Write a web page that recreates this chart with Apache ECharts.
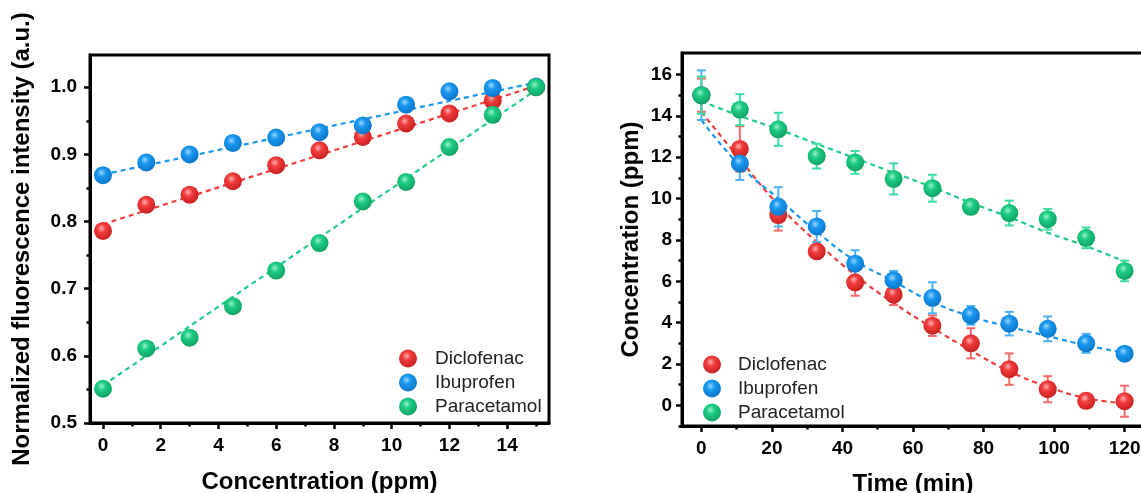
<!DOCTYPE html>
<html>
<head>
<meta charset="utf-8">
<script src="https://cdn.jsdelivr.net/npm/echarts@6/dist/echarts.min.js"></script>
<style>html,body{margin:0;padding:0;background:#fff}#c{width:1141px;height:493px}</style>
</head>
<body>
<div id="c"></div>
<script>
// ---------- data ----------
const seriesNames = ['Diclofenac', 'Ibuprofen', 'Paracetamol'];

// left panel: calibration
const leftX = [0, 1.5, 3, 4.5, 6, 7.5, 9, 10.5, 12, 13.5, 15];
const leftDiclofenac = [0.786, 0.825, 0.840, 0.860, 0.884, 0.906, 0.926, 0.946, 0.961, 0.980, 1.000];
const leftIbuprofen = [0.869, 0.888, 0.900, 0.917, 0.925, 0.933, 0.943, 0.974, 0.994, 0.999, 1.001];
const leftParacetamol = [0.551, 0.611, 0.627, 0.674, 0.727, 0.768, 0.830, 0.859, 0.911, 0.959, 1.000];
const leftFitX = [0, 15];
const leftFitDiclofenac = [0.796, 1.002];
const leftFitIbuprofen = [0.870, 1.007];
const leftFitParacetamol = [0.556, 0.996];
const leftXTicks = [0, 2, 4, 6, 8, 10, 12, 14];
const leftXMinor = [1, 3, 5, 7, 9, 11, 13, 15];
const leftYTicks = [0.5, 0.6, 0.7, 0.8, 0.9, 1.0];
const leftYMinor = [0.55, 0.65, 0.75, 0.85, 0.95];

// right panel: degradation over time
const rightX = [0, 10.9, 21.8, 32.7, 43.6, 54.5, 65.5, 76.4, 87.3, 98.2, 109.1, 120];
const rightDiclofenac = [15.0, 12.4, 9.2, 7.45, 5.95, 5.35, 3.85, 3.0, 1.75, 0.78, 0.22, 0.2];
const rightDiclofenacErr = [0.8, 1.1, 0.75, 0.3, 0.65, 0.5, 0.5, 0.73, 0.76, 0.63, 0.35, 0.75];
const rightIbuprofen = [15.0, 11.7, 9.6, 8.65, 6.85, 6.05, 5.2, 4.35, 3.95, 3.7, 3.0, 2.5];
const rightIbuprofenErr = [1.2, 0.8, 0.95, 0.75, 0.65, 0.45, 0.75, 0.45, 0.57, 0.6, 0.46, 0.25];
const rightParacetamol = [15.0, 14.3, 13.35, 12.05, 11.75, 10.95, 10.5, 9.6, 9.3, 9.0, 8.1, 6.5];
const rightParacetamolErr = [0.9, 0.75, 0.8, 0.6, 0.55, 0.75, 0.65, 0.3, 0.6, 0.5, 0.5, 0.5];
const rightFitDiclofenac = [14.2, 11.9, 9.7, 7.9, 6.3, 4.95, 3.75, 2.65, 1.65, 0.9, 0.35, 0.1];
const rightFitIbuprofen = [13.8, 11.6, 10.0, 8.4, 7.0, 6.0, 5.0, 4.3, 3.8, 3.35, 2.9, 2.55];
const rightFitParacetamol = [14.7, 14.0, 13.35, 12.65, 11.95, 11.25, 10.55, 9.8, 9.1, 8.35, 7.7, 6.95];
const rightXTicks = [0, 20, 40, 60, 80, 100, 120];
const rightXMinor = [10, 30, 50, 70, 90, 110];
const rightYTicks = [0, 2, 4, 6, 8, 10, 12, 14, 16];
const rightYMinor = [-1, 1, 3, 5, 7, 9, 11, 13, 15];

// ---------- styling ----------
const baseColors = ['#f03c3c', '#1a98f0', '#1ecc84'];
const lightColors = ['#ffb0b0', '#9ad6ff', '#9af2c8'];
const darkColors = ['#c81e1e', '#0a74c8', '#0ea062'];
const errColors = ['#f26a6a', '#4cb2f4', '#3ddca0'];
function sphere(i) {
  return {
    type: 'radial', x: 0.42, y: 0.36, r: 0.66,
    colorStops: [
      { offset: 0, color: lightColors[i] },
      { offset: 0.35, color: baseColors[i] },
      { offset: 1, color: darkColors[i] }
    ]
  };
}
const FONT = 'Arial, "Liberation Sans", sans-serif';
const tickLabel = { color: '#000', fontWeight: 'bold', fontSize: 19, fontFamily: FONT };
const nameStyle = { color: '#000', fontWeight: 'bold', fontSize: 24, fontFamily: FONT };

function mainAxis(grid, pos, min, max, ticks, fmt, name, gap, margin) {
  return {
    type: 'value', gridIndex: grid, position: pos, min: min, max: max,
    name: name, nameLocation: 'middle', nameGap: gap, nameTextStyle: nameStyle,
    axisLine: { show: true, onZero: false, lineStyle: { color: '#000', width: 3 } },
    axisTick: { show: true, inside: false, length: 6, customValues: ticks, lineStyle: { color: '#000', width: 2.5 } },
    axisLabel: Object.assign({ customValues: ticks, margin: margin, formatter: fmt }, tickLabel),
    splitLine: { show: false }
  };
}
function minorAxis(grid, pos, min, max, ticks) {
  return {
    type: 'value', gridIndex: grid, position: pos, min: min, max: max,
    axisLine: { show: false, onZero: false },
    axisTick: { show: true, inside: false, length: 3.5, customValues: ticks, lineStyle: { color: '#000', width: 2.5 } },
    axisLabel: { show: false },
    splitLine: { show: false }
  };
}

const LX = [-0.45, 15.45], LY = [0.5, 1.048];
const RX = [-5.5, 125.5], RY = [-1, 17.04];

const xAxis = [
  mainAxis(0, 'bottom', LX[0], LX[1], leftXTicks, v => String(v), 'Concentration (ppm)', 47, 13),
  minorAxis(0, 'bottom', LX[0], LX[1], leftXMinor),
  mainAxis(1, 'bottom', RX[0], RX[1], rightXTicks, v => String(v), 'Time (min)', 46, 13),
  minorAxis(1, 'bottom', RX[0], RX[1], rightXMinor)
];
const yAxis = [
  mainAxis(0, 'left', LY[0], LY[1], leftYTicks, v => v.toFixed(1), 'Normalized fluorescence intensity (a.u.)', 56, 13),
  minorAxis(0, 'left', LY[0], LY[1], leftYMinor),
  mainAxis(1, 'left', RY[0], RY[1], rightYTicks, v => String(v), 'Concentration (ppm)', 39, 10),
  minorAxis(1, 'left', RY[0], RY[1], rightYMinor)
];

const series = [];
const leftVals = [leftDiclofenac, leftIbuprofen, leftParacetamol];
const leftFits = [leftFitDiclofenac, leftFitIbuprofen, leftFitParacetamol];
const rightVals = [rightDiclofenac, rightIbuprofen, rightParacetamol];
const rightErrs = [rightDiclofenacErr, rightIbuprofenErr, rightParacetamolErr];
const rightFits = [rightFitDiclofenac, rightFitIbuprofen, rightFitParacetamol];

// fit lines
for (let i = 0; i < 3; i++) {
  series.push({
    type: 'line', name: seriesNames[i] + ' fit (L)', xAxisIndex: 0, yAxisIndex: 0,
    data: leftFitX.map((x, k) => [x, leftFits[i][k]]), showSymbol: false, symbol: 'none', z: 1,
    lineStyle: { color: baseColors[i], width: 2.2, type: [5, 4] }, silent: true
  });
  series.push({
    type: 'line', name: seriesNames[i] + ' fit (R)', xAxisIndex: 2, yAxisIndex: 2, smooth: true,
    data: rightX.map((x, k) => [x, rightFits[i][k]]), showSymbol: false, symbol: 'none', z: 1,
    lineStyle: { color: baseColors[i], width: 2.2, type: [5, 4] }, silent: true
  });
}
// error bars (right)
for (let i = 0; i < 3; i++) {
  series.push({
    type: 'custom', name: seriesNames[i] + ' err', xAxisIndex: 2, yAxisIndex: 2, z: 2, silent: true,
    data: rightX.map((x, k) => [x, rightVals[i][k] - rightErrs[i][k], rightVals[i][k] + rightErrs[i][k]]),
    renderItem: function (params, api) {
      const lo = api.coord([api.value(0), api.value(1)]);
      const hi = api.coord([api.value(0), api.value(2)]);
      const hw = 4.5;
      const st = { stroke: errColors[i], lineWidth: 2 };
      return {
        type: 'group', children: [
          { type: 'line', shape: { x1: lo[0], y1: lo[1], x2: hi[0], y2: hi[1] }, style: st },
          { type: 'line', shape: { x1: lo[0] - hw, y1: lo[1], x2: lo[0] + hw, y2: lo[1] }, style: st },
          { type: 'line', shape: { x1: hi[0] - hw, y1: hi[1], x2: hi[0] + hw, y2: hi[1] }, style: st }
        ]
      };
    }
  });
}
// points
for (let i = 0; i < 3; i++) {
  series.push({
    type: 'scatter', name: seriesNames[i], xAxisIndex: 0, yAxisIndex: 0, z: 3 + i,
    symbol: 'circle', symbolSize: 18, itemStyle: { color: sphere(i), opacity: 1 },
    data: leftX.map((x, k) => [x, leftVals[i][k]])
  });
}
for (let i = 0; i < 3; i++) {
  series.push({
    type: 'scatter', name: seriesNames[i], xAxisIndex: 2, yAxisIndex: 2, z: 3 + i,
    symbol: 'circle', symbolSize: 18, itemStyle: { color: sphere(i), opacity: 1 },
    data: rightX.map((x, k) => [x, rightVals[i][k]])
  });
}

const legendText = { color: '#222', fontSize: 19, fontFamily: FONT };
const option = {
  animation: false,
  backgroundColor: '#fff',
  grid: [
    { left: 90, top: 55, width: 459, height: 368, show: true, borderColor: '#000', borderWidth: 3, backgroundColor: 'transparent', outerBoundsMode: 'none', containLabel: false },
    { left: 682, top: 53, width: 462, height: 373, show: true, borderColor: '#000', borderWidth: 3, backgroundColor: 'transparent', outerBoundsMode: 'none', containLabel: false }
  ],
  xAxis: xAxis,
  yAxis: yAxis,
  legend: [
    { data: seriesNames, left: 394, top: 344, orient: 'vertical', icon: 'circle', itemWidth: 44, itemHeight: 18, itemGap: 5, textStyle: legendText, selectedMode: false },
    { data: seriesNames, left: 698, top: 350, orient: 'vertical', icon: 'circle', itemWidth: 42, itemHeight: 18, itemGap: 5, textStyle: legendText, selectedMode: false }
  ],
  series: series
};
const chart = echarts.init(document.getElementById('c'), null, { renderer: 'canvas' });
chart.setOption(option);
</script>
</body>
</html>
